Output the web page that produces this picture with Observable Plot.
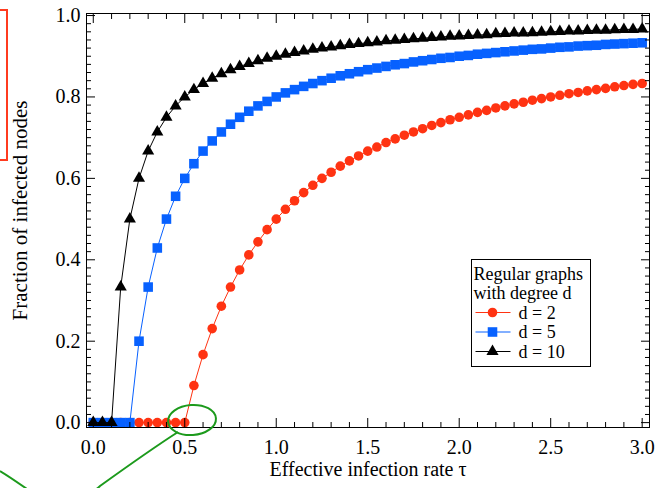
<!DOCTYPE html>
<html>
<head>
<meta charset="utf-8">
<script src="https://cdn.jsdelivr.net/npm/d3@7"></script>
<script src="https://cdn.jsdelivr.net/npm/@observablehq/plot@0.6"></script>
<style>
  html, body { margin: 0; padding: 0; background: white; }
  #wrap { position: relative; width: 658px; height: 488px; overflow: hidden; }
  #wrap svg { display: block; }
  .overlay { position: absolute; left: 0; top: 0; pointer-events: none; }
</style>
</head>
<body>
<div id="wrap"></div>
<script>
// ---- data ----
const tau = [0, 0.05, 0.1, 0.15, 0.2, 0.25, 0.3, 0.35, 0.4, 0.45, 0.5, 0.55, 0.6, 0.65, 0.7, 0.75, 0.8, 0.85, 0.9, 0.95, 1.0,
  1.05, 1.1, 1.15, 1.2, 1.25, 1.3, 1.35, 1.4, 1.45, 1.5, 1.55, 1.6, 1.65, 1.7, 1.75, 1.8, 1.85, 1.9, 1.95, 2.0,
  2.05, 2.1, 2.15, 2.2, 2.25, 2.3, 2.35, 2.4, 2.45, 2.5, 2.55, 2.6, 2.65, 2.7, 2.75, 2.8, 2.85, 2.9, 2.95, 3.0];

const fracD2 = [0, 0, 0, 0, 0, 0, 0, 0, 0, 0, 0,
  0.091, 0.167, 0.231, 0.286, 0.333, 0.375, 0.412, 0.444, 0.474, 0.5,
  0.524, 0.545, 0.565, 0.583, 0.6, 0.615, 0.630, 0.643, 0.655, 0.667,
  0.677, 0.688, 0.697, 0.706, 0.714, 0.722, 0.730, 0.737, 0.744, 0.75,
  0.756, 0.762, 0.767, 0.773, 0.778, 0.783, 0.787, 0.792, 0.796, 0.8,
  0.804, 0.808, 0.811, 0.815, 0.818, 0.821, 0.825, 0.828, 0.831, 0.833];

const fracD5 = [0, 0, 0, 0, 0,
  0.2, 0.333, 0.429, 0.5, 0.556, 0.6,
  0.636, 0.667, 0.692, 0.714, 0.733, 0.75, 0.765, 0.778, 0.789, 0.8,
  0.810, 0.818, 0.826, 0.833, 0.84, 0.846, 0.852, 0.857, 0.862, 0.867,
  0.871, 0.875, 0.879, 0.882, 0.886, 0.889, 0.892, 0.895, 0.897, 0.9,
  0.902, 0.905, 0.907, 0.909, 0.911, 0.913, 0.915, 0.917, 0.918, 0.92,
  0.922, 0.923, 0.925, 0.926, 0.927, 0.929, 0.930, 0.931, 0.932, 0.933];

const fracD10 = [0, 0, 0,
  0.333, 0.5, 0.6, 0.667, 0.714, 0.75, 0.778, 0.8,
  0.818, 0.833, 0.846, 0.857, 0.867, 0.875, 0.882, 0.889, 0.895, 0.9,
  0.905, 0.909, 0.913, 0.917, 0.92, 0.923, 0.926, 0.929, 0.931, 0.933,
  0.935, 0.938, 0.939, 0.941, 0.943, 0.944, 0.946, 0.947, 0.949, 0.95,
  0.951, 0.952, 0.953, 0.955, 0.956, 0.957, 0.957, 0.958, 0.959, 0.96,
  0.961, 0.962, 0.962, 0.963, 0.964, 0.964, 0.965, 0.966, 0.966, 0.967];

const seriesNames = ["d = 2", "d = 5", "d = 10"];
const seriesValues = [fracD2, fracD5, fracD10];
const seriesColors = ["#ff3312", "#0761ff", "#000000"];
const seriesSymbols = ["circle", "square", "triangle"];
const seriesR = [4.8, 5.4, 4.5];

const xTickLabels = [0, 0.5, 1.0, 1.5, 2.0, 2.5, 3.0];
const yTickLabels = [0, 0.2, 0.4, 0.6, 0.8, 1.0];
const xMinorTicks = d3.range(0, 3.001, 0.1).filter(v => Math.abs(v * 2 - Math.round(v * 2)) > 1e-6);
const yMinorTicks = d3.range(0, 1.001, 0.02).filter(v => Math.abs(v * 5 - Math.round(v * 5)) > 1e-6);

const legendTitle = ["Regular graphs", "with degree d"];
const xLabel = "Effective infection rate τ";
const yLabel = "Fraction of infected nodes";

// ---- build rows ----
const series = seriesNames.map((name, k) => ({
  name, color: seriesColors[k], symbol: seriesSymbols[k], r: seriesR[k],
  rows: tau.map((t, i) => ({tau: t, frac: seriesValues[k][i]}))
}));

const seriesMarks = series.flatMap(s => [
  Plot.line(s.rows, {x: "tau", y: "frac", stroke: s.color, strokeWidth: 1}),
  Plot.dot(s.rows, {x: "tau", y: "frac", fill: s.color, stroke: "none", symbol: () => s.symbol, r: s.r})
]);

const fmt = d => d.toFixed(1);

const chart = Plot.plot({
  width: 658,
  height: 488,
  marginLeft: 86,
  marginRight: 9,
  marginTop: 13,
  marginBottom: 61,
  x: {domain: [-0.037, 3.04]},
  y: {domain: [-0.012, 1.005]},
  symbol: {type: "identity"},
  style: {fontFamily: "'Liberation Serif', 'DejaVu Serif', serif", fontSize: "20px", color: "black", background: "white"},
  marks: [
    ...seriesMarks,
    // tick labels
    Plot.axisX({ticks: xTickLabels, tickSize: 0, tickPadding: 12, tickFormat: fmt, label: null, fontSize: 20}),
    Plot.axisY({ticks: yTickLabels, tickSize: 0, tickPadding: 6, tickFormat: fmt, label: null, fontSize: 20}),
    // inward ticks, all four sides
    Plot.axisX({anchor: "bottom", ticks: xTickLabels, tickSize: -9, tickFormat: () => "", label: null}),
    Plot.axisX({anchor: "bottom", ticks: xMinorTicks, tickSize: -5, tickFormat: () => "", label: null}),
    Plot.axisX({anchor: "top", ticks: xTickLabels, tickSize: -9, tickFormat: () => "", label: null}),
    Plot.axisX({anchor: "top", ticks: xMinorTicks, tickSize: -5, tickFormat: () => "", label: null}),
    Plot.axisY({anchor: "left", ticks: yTickLabels, tickSize: -9, tickFormat: () => "", label: null}),
    Plot.axisY({anchor: "left", ticks: yMinorTicks, tickSize: -5, tickFormat: () => "", label: null}),
    Plot.axisY({anchor: "right", ticks: yTickLabels, tickSize: -9, tickFormat: () => "", label: null}),
    Plot.axisY({anchor: "right", ticks: yMinorTicks, tickSize: -5, tickFormat: () => "", label: null}),
    Plot.frame({stroke: "black", strokeWidth: 1}),
    // axis titles
    Plot.text([xLabel], {frameAnchor: "bottom", dy: 48, fontSize: 20, fill: "black", textAnchor: "middle"}),
    Plot.text([yLabel], {frameAnchor: "left", dx: -66, dy: -10, rotate: -90, fontSize: 21, fill: "black", textAnchor: "middle"})
  ]
});

const wrap = document.getElementById("wrap");
wrap.appendChild(chart);

// ---- legend (built from the series arrays) ----
const lg = d3.create("svg").attr("class", "overlay").attr("width", 658).attr("height", 488)
  .style("font-family", "'Liberation Serif', serif").style("font-size", "18px");
const lx = 471.5, ly = 259.5, lw = 119, lh = 107;
lg.append("rect").attr("x", lx).attr("y", ly).attr("width", lw).attr("height", lh)
  .attr("fill", "white").attr("stroke", "black").attr("stroke-width", 1);
legendTitle.forEach((t, i) => {
  lg.append("text").attr("x", lx + 2).attr("y", ly + 14 + i * 19.5).attr("dy", "0.35em").text(t);
});
series.forEach((s, i) => {
  const cy = ly + 53 + i * 19.5;
  lg.append("line").attr("x1", lx + 4).attr("x2", lx + 39).attr("y1", cy).attr("y2", cy)
    .attr("stroke", s.color).attr("stroke-width", 1.2);
  const sym = {circle: d3.symbolCircle, square: d3.symbolSquare, triangle: d3.symbolTriangle}[s.symbol];
  lg.append("path").attr("transform", `translate(${lx + 21},${cy})`)
    .attr("d", d3.symbol(sym, Math.PI * s.r * s.r)()).attr("fill", s.color);
  lg.append("text").attr("x", lx + 47).attr("y", cy).attr("dy", "0.35em").text(s.name);
});
wrap.appendChild(lg.node());

// ---- hand-drawn annotations seen in the reference ----
const an = d3.create("svg").attr("class", "overlay").attr("width", 658).attr("height", 488);
an.append("rect").attr("x", -10).attr("y", 10).attr("width", 17).attr("height", 150)
  .attr("fill", "none").attr("stroke", "#ff3b1f").attr("stroke-width", 2);
an.append("ellipse").attr("cx", 192).attr("cy", 420).attr("rx", 24).attr("ry", 15)
  .attr("transform", "rotate(-4 192 420)")
  .attr("fill", "none").attr("stroke", "#1c9a1c").attr("stroke-width", 2);
an.append("path").attr("d", "M0,471 C15,480 28,490 40,498 C60,505 85,500 100,486 C125,468 150,450 178,432")
  .attr("fill", "none").attr("stroke", "#1c9a1c").attr("stroke-width", 2);
wrap.appendChild(an.node());
</script>
</body>
</html>
